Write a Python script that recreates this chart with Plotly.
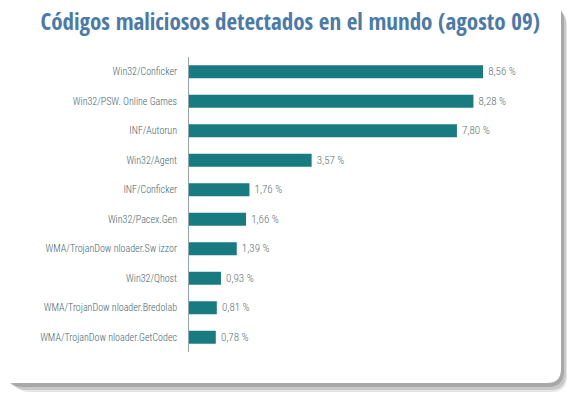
import plotly.graph_objects as go

categories = [
    "Win32/Conficker",
    "Win32/PSW. Online Games",
    "INF/Autorun",
    "Win32/Agent",
    "INF/Conficker",
    "Win32/Pacex.Gen",
    "WMA/TrojanDow nloader.Sw izzor",
    "Win32/Qhost",
    "WMA/TrojanDow nloader.Bredolab",
    "WMA/TrojanDow nloader.GetCodec",
]
values = [8.56, 8.28, 7.80, 3.57, 1.76, 1.66, 1.39, 0.93, 0.81, 0.78]
value_labels = ["\u2009" + f"{v:.2f}".replace(".", ",") + " %" for v in values]

W, H = 567, 393
LABEL_FONT = "Roboto Condensed, Open Sans Condensed, DejaVu Sans Condensed, sans-serif"
TITLE_FONT = "Open Sans Condensed, Roboto Condensed, DejaVu Sans Condensed, sans-serif"

def px(x):
    return x / W

def py(y):
    return 1 - y / H

def rounded_path(x0, y0, x1, y1, r):
    pts = [
        f"M {px(x0 + r)},{py(y0)}",
        f"L {px(x1 - r)},{py(y0)}",
        f"Q {px(x1)},{py(y0)} {px(x1)},{py(y0 + r)}",
        f"L {px(x1)},{py(y1 - r)}",
        f"Q {px(x1)},{py(y1)} {px(x1 - r)},{py(y1)}",
        f"L {px(x0 + r)},{py(y1)}",
        f"Q {px(x0)},{py(y1)} {px(x0)},{py(y1 - r)}",
        f"L {px(x0)},{py(y0 + r)}",
        f"Q {px(x0)},{py(y0)} {px(x0 + r)},{py(y0)}",
        "Z",
    ]
    return " ".join(pts)

fig = go.Figure()
fig.add_trace(go.Bar(
    x=values,
    y=categories,
    orientation="h",
    marker=dict(color="#187b81", line=dict(width=0)),
    width=0.44,
    text=value_labels,
    textposition="outside",
    textfont=dict(family=LABEL_FONT, size=11, color="#5c7176", weight=300),
    cliponaxis=False,
    hoverinfo="skip",
))

shadow_shapes = []
for off, col in [((14, 10, 567, 392), "rgba(150,150,150,0.25)"),
                 ((10, 8, 566, 390), "rgba(150,150,150,0.35)"),
                 ((6, 5, 564, 387), "rgba(140,140,140,0.55)")]:
    x0, y0, x1, y1 = off
    shadow_shapes.append(dict(type="path", xref="paper", yref="paper", layer="below",
                              path=rounded_path(x0, y0, x1, y1, 16),
                              fillcolor=col, line=dict(width=0)))

fig.update_layout(
    width=W, height=H,
    margin=dict(l=0, r=0, t=0, b=0),
    paper_bgcolor="white",
    plot_bgcolor="rgba(0,0,0,0)",
    showlegend=False,
    bargap=0.56,
    title=dict(
        text="Códigos maliciosos detectados en el mundo (agosto 09)",
        x=0.512, xanchor="center", y=py(22), yanchor="middle",
        font=dict(family=TITLE_FONT, size=23, color="#4a7aa9", weight="bold"),
    ),
    xaxis=dict(
        domain=[px(189), px(560)],
        range=[0, 371 / 34.35],
        showgrid=False, zeroline=False, showticklabels=False, showline=False,
        fixedrange=True,
    ),
    yaxis=dict(
        domain=[py(352), py(57)],
        autorange="reversed",
        showgrid=False, zeroline=False,
        showline=True, linecolor="#8fa8ad", linewidth=1,
        ticks="", ticklabelstandoff=9,
        tickfont=dict(family=LABEL_FONT, size=10, color="#3e6670", weight=300),
        fixedrange=True,
    ),
    shapes=shadow_shapes + [
        dict(type="path", xref="paper", yref="paper", layer="below",
             path=rounded_path(-20, -20, 561, 383, 14),
             fillcolor="white", line=dict(width=0)),
    ],
)

fig.write_html("out.html", config={"displayModeBar": False},
               post_script="document.body.style.margin='0';")
